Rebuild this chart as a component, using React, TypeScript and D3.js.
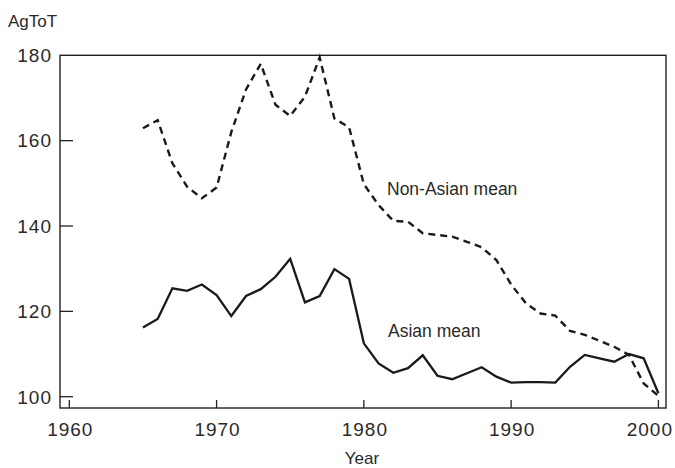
import React from "react";
import * as d3 from "d3";

const years = d3.range(1965, 2001);
const nonAsianMean = [162.9, 164.8, 154.7, 149.2, 146.5, 149.0, 162.0, 172.0, 178.0, 168.4, 165.8, 170.3, 179.5, 165.2, 163.1, 149.8, 144.9, 141.2, 141.0, 138.3, 137.9, 137.5, 136.3, 135.0, 132.0, 126.3, 121.9, 119.5, 119.0, 115.4, 114.5, 113.1, 111.7, 109.8, 103.1, 100.2];
const asianMean = [116.2, 118.2, 125.4, 124.8, 126.3, 123.8, 118.9, 123.6, 125.2, 128.1, 132.3, 122.1, 123.6, 129.9, 127.6, 112.5, 107.8, 105.6, 106.7, 109.7, 104.9, 104.1, 105.5, 106.9, 104.7, 103.3, 103.4, 103.4, 103.3, 107.0, 109.8, 109.0, 108.2, 110.0, 109.0, 100.8];
const xTicks = [1960, 1970, 1980, 1990, 2000];
const yTicks = [100, 120, 140, 160, 180];

export default function App() {
  const left = 60, right = 666, top = 55.3, bottom = 408;
  const x = d3.scaleLinear().domain([1960, 2000]).range([69.3, 658.4]);
  const y = d3.scaleLinear().domain([100, 180]).range([396.7, 55.3]);
  const line = d3.line<number>().x((_, i) => x(years[i])).y((d) => y(d)).curve(d3.curveLinear);
  const font = "'Liberation Sans', Arial, sans-serif";
  const textColor = "#2a2a2a";
  return (
    <svg width={675} height={468} style={{ position: "absolute", left: 0, top: 0, background: "#fff" }}>
      <rect x={left} y={top} width={right - left} height={bottom - top} fill="none" stroke="#222" strokeWidth={1.4} />
      {yTicks.filter((t) => t < 180).map((t) => (
        <line key={t} x1={left} x2={left + 13} y1={y(t)} y2={y(t)} stroke="#222" strokeWidth={1.3} />
      ))}
      {xTicks.map((t) => (
        <line key={t} x1={x(t)} x2={x(t)} y1={bottom} y2={bottom - 8} stroke="#222" strokeWidth={1.3} />
      ))}
      {yTicks.map((t) => (
        <text key={t} x={52} y={y(t)} dy="0.36em" textAnchor="end" fontFamily={font} fontSize={19} letterSpacing={1} fill={textColor}>{t}</text>
      ))}
      {xTicks.map((t, i) => (
        <text key={t} x={i === xTicks.length - 1 ? 673 : x(t) + 1} y={436} textAnchor={i === xTicks.length - 1 ? "end" : "middle"} fontFamily={font} fontSize={19} letterSpacing={1} fill={textColor}>{t}</text>
      ))}
      <text x={362} y={464} textAnchor="middle" fontFamily={font} fontSize={17} fill={textColor}>Year</text>
      <text x={8} y={27} fontFamily={font} fontSize={17} fill={textColor}>AgToT</text>
      <path d={line(nonAsianMean) ?? ""} fill="none" stroke="#1a1a1a" strokeWidth={2.4} strokeDasharray="7,5" />
      <path d={line(asianMean) ?? ""} fill="none" stroke="#1a1a1a" strokeWidth={2.3} />
      <text x={387} y={195} fontFamily={font} fontSize={17.5} fill={textColor}>Non-Asian mean</text>
      <text x={388} y={337} fontFamily={font} fontSize={17.5} fill={textColor}>Asian mean</text>
    </svg>
  );
}
